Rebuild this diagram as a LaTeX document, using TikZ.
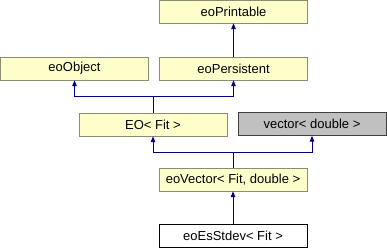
\documentclass[tikz,border=0pt]{standalone}
\usepackage{fontspec}
\setmainfont{Liberation Sans}
\usepackage{tikz}
\usetikzlibrary{positioning, arrows.meta}

\definecolor{boxfill}{HTML}{FFFFCC}
\definecolor{boxline}{HTML}{8C8C70}
\definecolor{greyfill}{HTML}{C0C0C0}
\definecolor{inhblue}{HTML}{000080}

\begin{document}
\begin{tikzpicture}[x=1pt, y=-1pt,
    cls/.style={draw=boxline, fill=boxfill, rectangle, minimum width=148pt, minimum height=23pt, inner sep=0pt, font=\fontsize{13}{15}\selectfont},
    ext/.style={cls, draw=black!75, fill=greyfill},
    self/.style={cls, draw=black, fill=white},
    inh/.style={draw=inhblue, line width=1pt, -{Triangle[length=6pt, width=4.5pt]}}]
        \useasboundingbox (0,0) rectangle (387,248);

        \node[cls] (printable) at (233.5,11.5) {eoPrintable};
        \node[cls] (persist) at (233.5,68.5) {eoPersistent};
        \node[cls] (object) at (74.5,68.5) {eoObject};
        \node[cls] (eo) at (153,124.5) {EO\textless{} Fit \textgreater};
        \node[ext] (vec) at (312,124) {vector\textless{} double \textgreater};
        \node[cls] (eovec) at (233,179.5) {eoVector\textless{} Fit, double \textgreater};
        \node[self] (stdev) at (233,235.5) {eoEsStdev\textless{} Fit \textgreater};

        \coordinate (j1) at (153,97);
        \coordinate (j2) at (233,152);

        \draw[inh] (persist) -- (printable);
        \draw[inh, -] (eo) -- (j1);
        \draw[inh] (j1) -| (object);
        \draw[inh] (j1) -| (persist);
        \draw[inh, -] (eovec) -- (j2);
        \draw[inh] (j2) -| (eo);
        \draw[inh] (j2) -| (vec);
        \draw[inh] (stdev) -- (eovec);
      \end{tikzpicture}
\end{document}
